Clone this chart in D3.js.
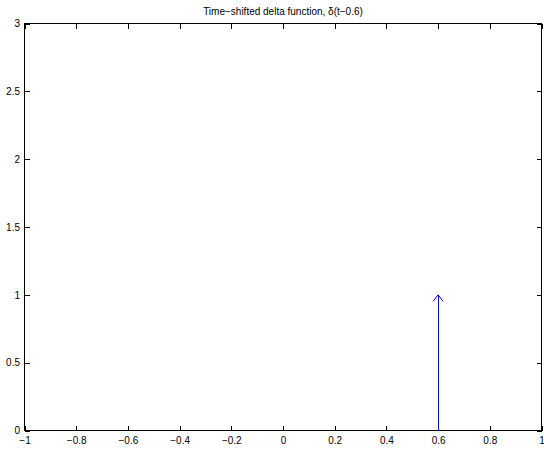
<!DOCTYPE html>
<html><head><meta charset="utf-8">
<script src="https://cdn.jsdelivr.net/npm/d3@7"></script>
<style>body{margin:0;background:#fff}svg{display:block}text{font-family:"Liberation Sans",Arial,sans-serif}</style>
</head><body>
<script>
const title = "Time\u2212shifted delta function, \u03b4(t\u22120.6)";
const xTicks = [-1,-0.8,-0.6,-0.4,-0.2,0,0.2,0.4,0.6,0.8,1];
const yTicks = [0,0.5,1,1.5,2,2.5,3];
const impulseT = [0.6];
const impulseA = [1];

const W=544,H=449, m={l:24.5,r:2.5,t:23.5,b:18.5};
const svg=d3.select("body").append("svg").attr("width",W).attr("height",H);
const x=d3.scaleLinear().domain([-1,1]).range([m.l,W-m.r]);
const y=d3.scaleLinear().domain([0,3]).range([H-m.b,m.t]);
const fmt=d=>String(d).replace("-","\u2212");
svg.append("rect").attr("x",x(-1)).attr("y",y(3)).attr("width",x(1)-x(-1)).attr("height",y(0)-y(3))
  .attr("fill","none").attr("stroke","#000").attr("stroke-width",1).attr("shape-rendering","crispEdges");
const gx=svg.append("g").attr("transform",`translate(0,${y(0)})`)
  .call(d3.axisBottom(x).tickValues(xTicks).tickSizeInner(-5).tickSizeOuter(0).tickPadding(4).tickFormat(fmt));
const gx2=svg.append("g").attr("transform",`translate(0,${y(3)})`)
  .call(d3.axisTop(x).tickValues(xTicks).tickSizeInner(-5).tickSizeOuter(0).tickFormat(""));
const gy=svg.append("g").attr("transform",`translate(${x(-1)},0)`)
  .call(d3.axisLeft(y).tickValues(yTicks).tickSizeInner(-5).tickSizeOuter(0).tickPadding(4.5).tickFormat(fmt));
const gy2=svg.append("g").attr("transform",`translate(${x(1)},0)`)
  .call(d3.axisRight(y).tickValues(yTicks).tickSizeInner(-5).tickSizeOuter(0).tickFormat(""));
[gx,gx2,gy,gy2].forEach(g=>{g.select(".domain").remove();g.selectAll("line").attr("stroke","#000").attr("shape-rendering","crispEdges");
  g.selectAll("text").attr("font-size",10).attr("fill","#000").attr("font-family","Liberation Sans, Arial, sans-serif");});
gx.selectAll("text").attr("dy","0.9em");
const data=impulseT.map((t,i)=>({t,a:impulseA[i]}));
const g=svg.append("g").attr("stroke","#0000ff").attr("fill","none").attr("stroke-width",1);
data.forEach(d=>{
  g.append("line").attr("x1",x(d.t)).attr("x2",x(d.t)).attr("y1",y(0)).attr("y2",y(d.a)).attr("shape-rendering","crispEdges");
  g.append("path").attr("d",`M${x(d.t)-5},${y(d.a)+6.5}L${x(d.t)},${y(d.a)}L${x(d.t)+5},${y(d.a)+6.5}`);
});
svg.append("text").attr("x",(x(-1)+x(1))/2).attr("y",14.5).attr("text-anchor","middle")
  .attr("font-size",10).attr("fill","#000").text(title);
</script>
</body></html>
